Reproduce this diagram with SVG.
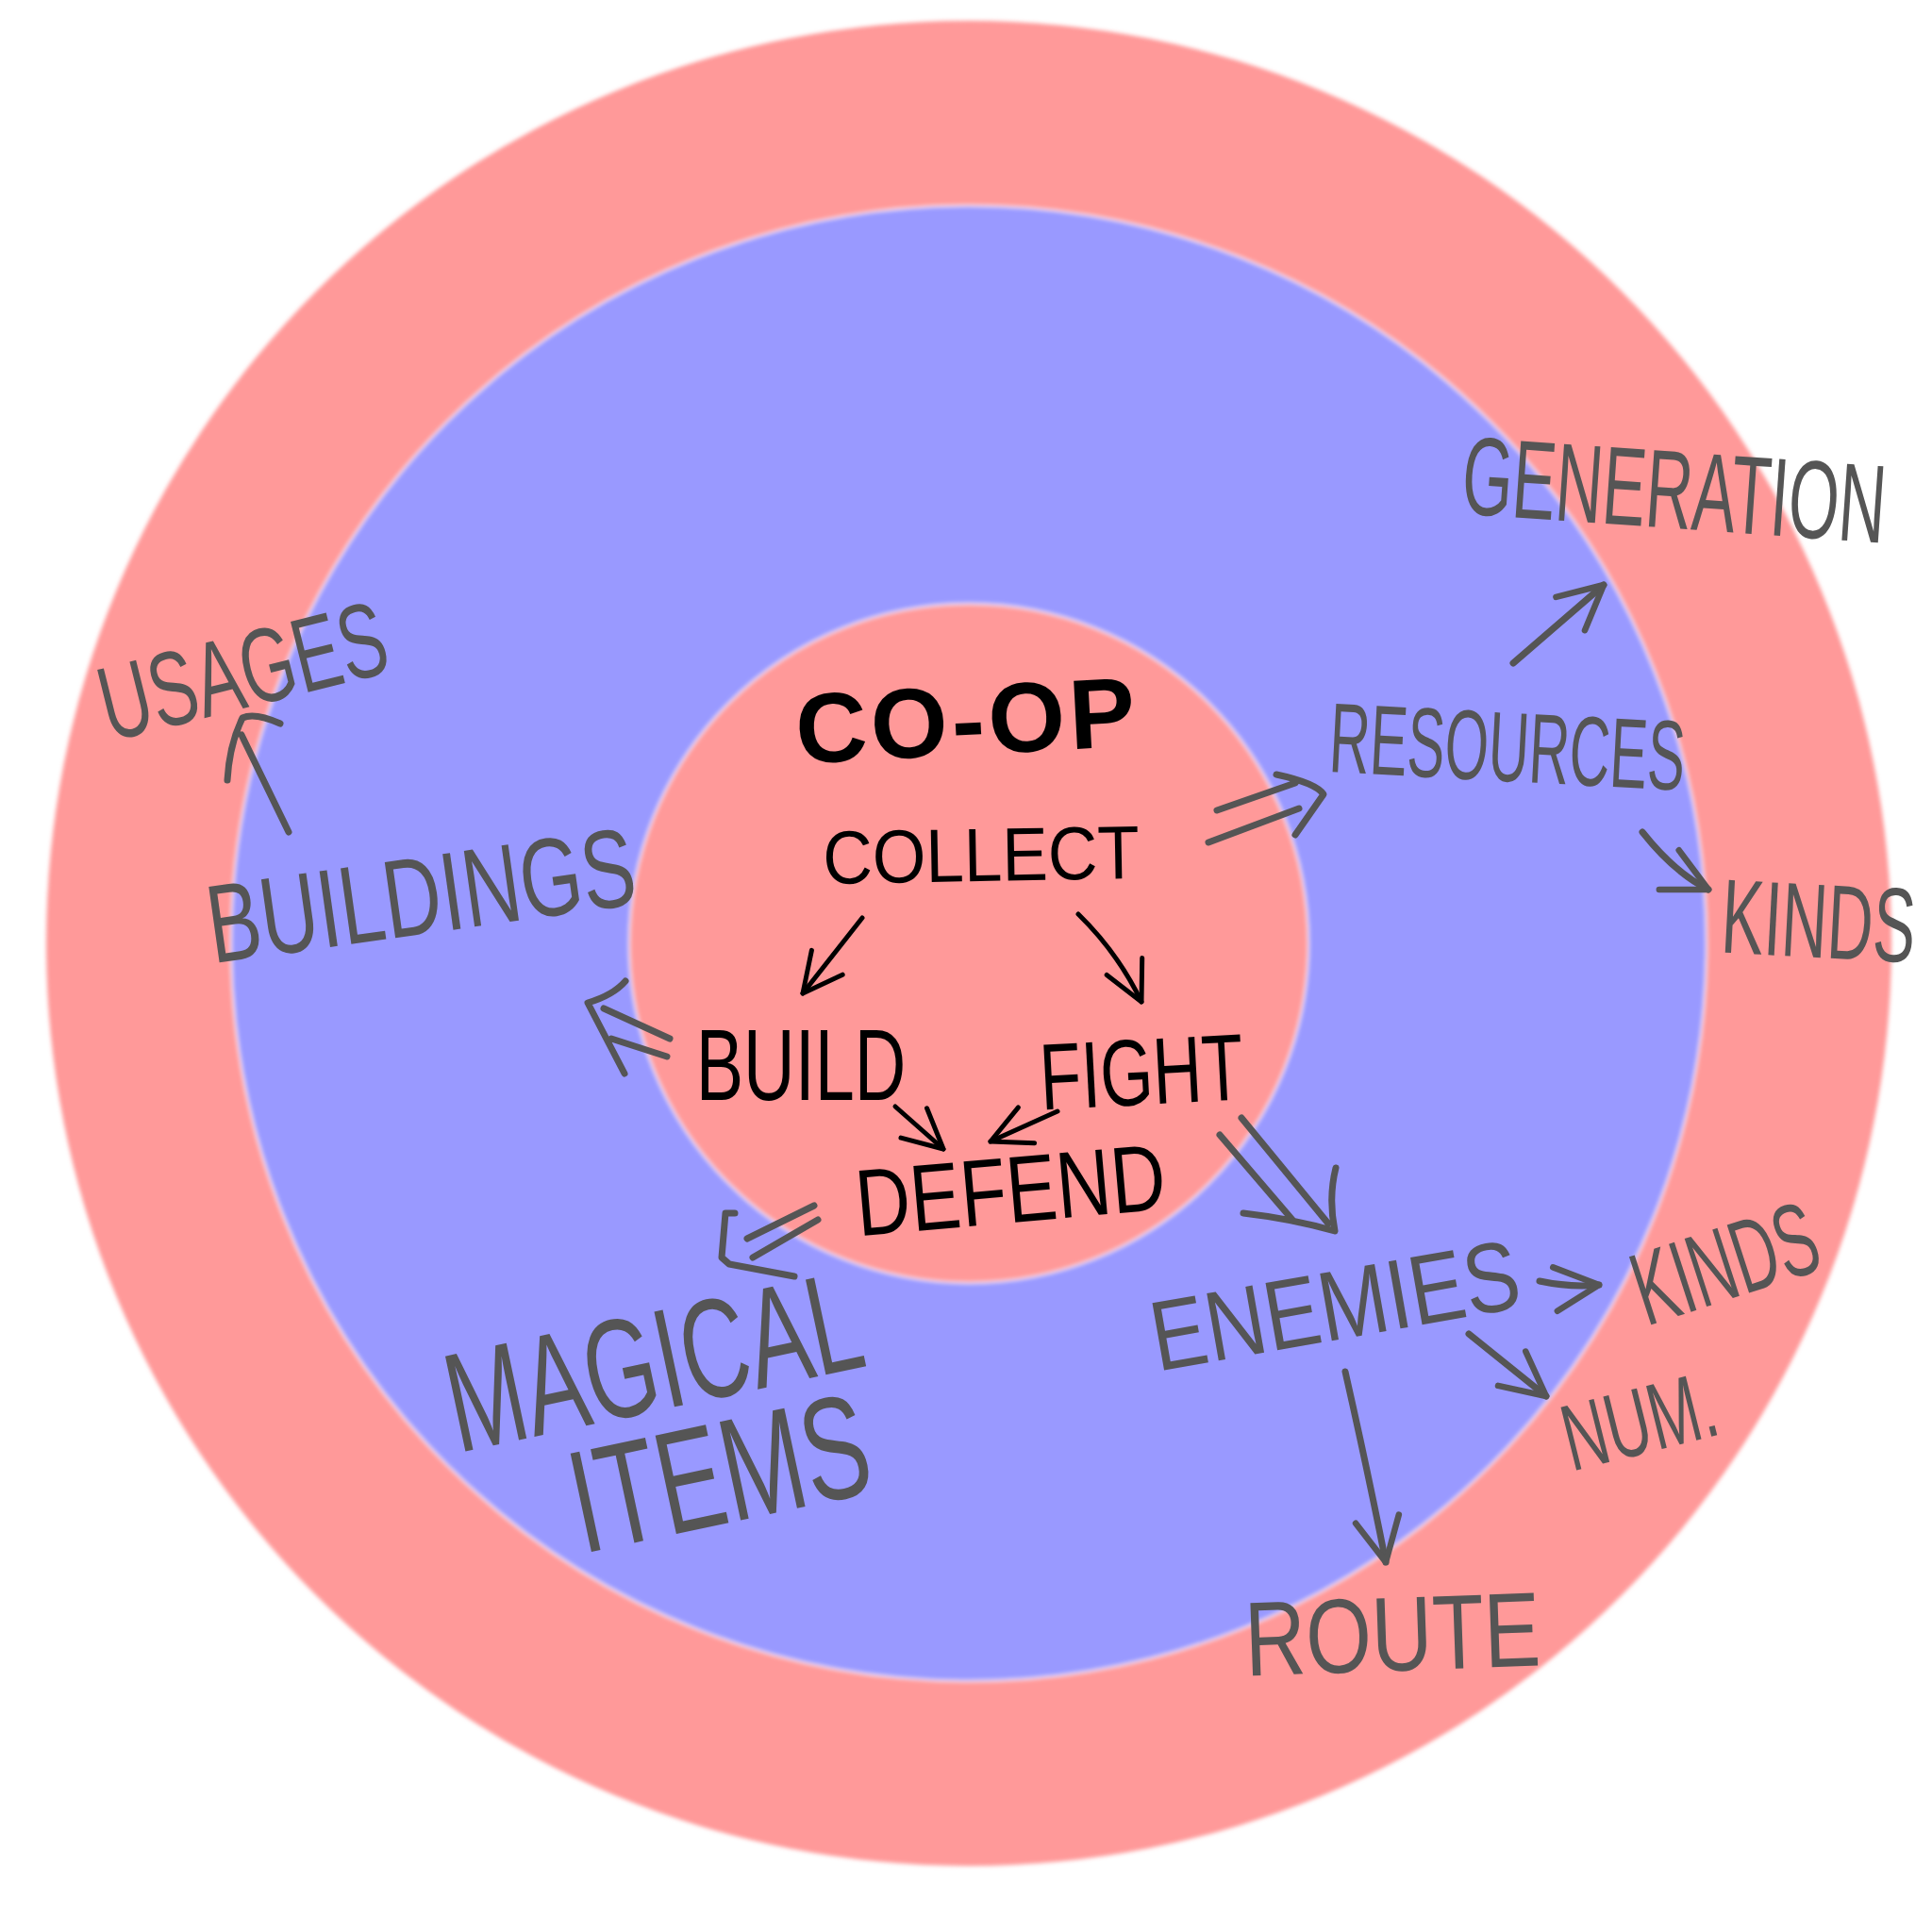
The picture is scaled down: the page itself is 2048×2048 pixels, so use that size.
<svg xmlns="http://www.w3.org/2000/svg" width="2048" height="2048" viewBox="0 0 2048 2048">
<style>
.t{font-family:"Liberation Sans","DejaVu Sans",sans-serif;text-anchor:middle}
.g{fill:#555555}
.k{fill:#000000}
.ag{fill:none;stroke:#555555;stroke-width:7;stroke-linecap:round;stroke-linejoin:round}
.ak{fill:none;stroke:#000000;stroke-width:5;stroke-linecap:round;stroke-linejoin:round}
</style>
<defs>
<filter id="soft" x="-5%" y="-5%" width="110%" height="110%"><feGaussianBlur stdDeviation="2"/></filter>
<marker id="hk" viewBox="0 0 12 12" refX="11" refY="6" markerWidth="10" markerHeight="10" orient="auto" markerUnits="strokeWidth">
<path d="M1,1 L11,6 L1,11" fill="none" stroke="#000" stroke-width="1.2" stroke-linecap="round" stroke-linejoin="round"/>
</marker>
<marker id="hg" viewBox="0 0 12 12" refX="11" refY="6" markerWidth="8" markerHeight="8" orient="auto" markerUnits="strokeWidth">
<path d="M1,1 L11,6 L1,11" fill="none" stroke="#555" stroke-width="1.4" stroke-linecap="round" stroke-linejoin="round"/>
</marker>
</defs>
<rect width="2048" height="2048" fill="#ffffff"/>
<g id="rings" filter="url(#soft)">
<circle cx="1027" cy="1000" r="978" fill="#ff9999"/>
<circle cx="1027" cy="1000" r="782" fill="#9999ff" stroke="#ffffff" stroke-opacity="0.6" stroke-width="3"/>
<circle cx="1027" cy="1000" r="360" fill="#ff9999" stroke="#ffffff" stroke-opacity="0.6" stroke-width="3"/>
</g>
<g id="connectors">
<path class="ak" d="M914,973 L851,1053" marker-end="url(#hk)"/>
<path class="ak" d="M1143,969 Q1185,1010 1210,1062" marker-end="url(#hk)"/>
<path class="ak" d="M949,1173 L1000,1218" marker-end="url(#hk)"/>
<path class="ak" d="M1121,1178 L1050,1210" marker-end="url(#hk)"/>
<path class="ag" d="M1290,859 L1373,830 M1281,893 L1377,857 M1353,821 Q1395,830 1403,842 L1373,885"/>
<path class="ag" d="M1293,1203 L1370,1293 M1316,1185 L1408,1297 M1318,1286 Q1370,1292 1415,1305 Q1408,1270 1416,1238"/>
<path class="ag" d="M863,1278 L792,1313 M867,1293 L798,1333 M779,1286 L769,1286 L765,1333 L773,1340 L842,1353"/>
<path class="ag" d="M640,1069 L710,1101 M648,1101 L707,1120 M663,1040 Q650,1055 623,1063 L662,1138"/>
<path class="ag" d="M306,882 L256,779 M297,767 Q270,755 257,761 Q243,790 241,827"/>
<path class="ag" d="M1604,703 L1700,620" marker-end="url(#hg)"/>
<path class="ag" d="M1741,882 Q1775,925 1811,943" marker-end="url(#hg)"/>
<path class="ag" d="M1632,1358 Q1665,1365 1695,1362" marker-end="url(#hg)"/>
<path class="ag" d="M1557,1414 L1639,1480" marker-end="url(#hg)"/>
<path class="ag" d="M1426,1454 Q1450,1560 1469,1656" marker-end="url(#hg)"/>
</g>
<g id="node-coop"><text class="t k" font-size="105" font-weight="bold" letter-spacing="4" transform="translate(1025 762) rotate(-3)" y="38">CO-OP</text></g>
<g id="node-collect"><text class="t k" font-size="80" transform="translate(1040 906) rotate(-1) scale(0.91 1)" y="28">COLLECT</text></g>
<g id="node-build"><text class="t k" font-size="108" transform="translate(849 1127) scale(0.70 1)" y="39">BUILD</text></g>
<g id="node-fight"><text class="t k" font-size="100" transform="translate(1210 1135) rotate(-3) scale(0.72 1)" y="36">FIGHT</text></g>
<g id="node-defend"><text class="t k" font-size="100" transform="translate(1071 1260) rotate(-5) scale(0.80 1)" y="36">DEFEND</text></g>
<g id="node-resources"><text class="t g" font-size="105" transform="translate(1598 790) rotate(3) scale(0.567 1)" y="38">RESOURCES</text></g>
<g id="node-generation"><text class="t g" font-size="118" transform="translate(1775 517) rotate(4) scale(0.583 1)" y="43">GENERATION</text></g>
<g id="node-kinds-res"><text class="t g" font-size="112" transform="translate(1928 975) rotate(3) scale(0.60 1)" y="40">KINDS</text></g>
<g id="node-enemies"><text class="t g" font-size="105" transform="translate(1415 1383) rotate(-10) scale(0.835 1)" y="37">ENEMIES</text></g>
<g id="node-kinds-en"><text class="t g" font-size="110" transform="translate(1828 1337) rotate(-18) scale(0.595 1)" y="40">KINDS</text></g>
<g id="node-num"><text class="t g" font-size="100" transform="translate(1737 1504) rotate(-14) scale(0.645 1)" y="37">NUM.</text></g>
<g id="node-route"><text class="t g" font-size="112" transform="translate(1476 1731) rotate(-2) scale(0.80 1)" y="40">ROUTE</text></g>
<g id="node-magical"><text class="t g" font-size="150" transform="translate(692 1440) rotate(-12) scale(0.66 1)" y="55">MAGICAL</text></g>
<g id="node-items"><text class="t g" font-size="155" transform="translate(762 1558) rotate(-12) scale(0.675 1)" y="57">ITEMS</text></g>
<g id="node-buildings"><text class="t g" font-size="118" transform="translate(446 948) rotate(-8) scale(0.718 1)" y="42">BUILDINGS</text></g>
<g id="node-usages"><text class="t g" font-size="112" transform="translate(257 710) rotate(-14) scale(0.664 1)" y="40">USAGES</text></g>
</svg>
